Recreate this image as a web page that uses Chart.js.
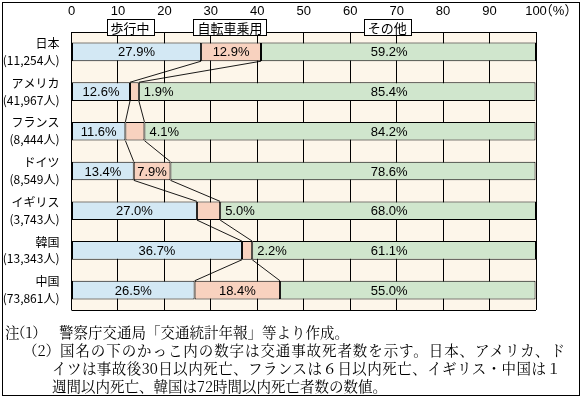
<!DOCTYPE html>
<html>
<head>
<meta charset="utf-8">
<script src="https://cdn.jsdelivr.net/npm/chart.js@4.4.0/dist/chart.umd.min.js"></script>
<style>
  body { margin: 0; background: #fff; }
  #wrap { position: relative; width: 584px; height: 402px; overflow: hidden; }
  #myChart { position: absolute; left: 0; top: 0; }
  #frame { position: absolute; left: 2px; top: 2px; width: 578px; height: 394px; border: 1px solid #000; box-sizing: border-box; pointer-events: none; }
  .note { position: absolute; font-family: 'Noto Serif CJK JP', 'Noto Sans CJK JP', serif; font-size: 14.5px; line-height: 18px; color: #000; white-space: nowrap; }
  .just { text-align: justify; text-align-last: justify; white-space: normal; }
</style>
</head>
<body>
<div id="wrap">
  <canvas id="myChart" width="584" height="402"></canvas>
  <div id="frame"></div>
  <div class="note" style="left:5px;top:323px;">注</div>
  <div class="note" style="left:11px;top:323px;">（1）</div>
  <div class="note" style="left:59px;top:323px;">警察庁交通局「交通統計年報」等より作成。</div>
  <div class="note" style="left:23px;top:341px;">（2）</div>
  <div class="note just" style="left:60px;top:341px;width:505px;">国名の下のかっこ内の数字は交通事故死者数を示す。日本、アメリカ、ド</div>
  <div class="note just" style="left:52px;top:359px;width:509px;">イツは事故後30日以内死亡、フランスは６日以内死亡、イギリス・中国は１</div>
  <div class="note" style="left:52px;top:377px;">週間以内死亡、韓国は72時間以内死亡者数の数値。</div>
</div>
<script>
var countries = ['日本', 'アメリカ', 'フランス', 'ドイツ', 'イギリス', '韓国', '中国'];
var deaths = ['11,254', '41,967', '8,444', '8,549', '3,743', '13,343', '73,861'];
var seriesNames = ['歩行中', '自転車乗用', 'その他'];
var pedestrian = [27.9, 12.6, 11.6, 13.4, 27.0, 36.7, 26.5];
var bicycle = [12.9, 1.9, 4.1, 7.9, 5.0, 2.2, 18.4];
var other = [59.2, 85.4, 84.2, 78.6, 68.0, 61.1, 55.0];
var xTicks = [0, 10, 20, 30, 40, 50, 60, 70, 80, 90, 100];

var jp = "'Noto Sans CJK JP', sans-serif";
var num = "'Liberation Sans', 'Noto Sans CJK JP', sans-serif";

// cream plot background + bottom edge
var plotBg = {
  id: 'plotBg',
  beforeDraw: function(chart) {
    var a = chart.chartArea, ctx = chart.ctx;
    ctx.save();
    ctx.fillStyle = '#fdf6ea';
    ctx.fillRect(a.left, a.top, a.right - a.left, a.bottom - a.top);
    ctx.restore();
  },
  afterDraw: function(chart) {
    var a = chart.chartArea, ctx = chart.ctx;
    ctx.save();
    ctx.strokeStyle = '#000';
    ctx.lineWidth = 1;
    ctx.beginPath();
    ctx.moveTo(a.left, Math.round(a.bottom) + 0.5);
    ctx.lineTo(a.right, Math.round(a.bottom) + 0.5);
    ctx.stroke();
    ctx.restore();
  }
};

// lines joining the bicycle segment between neighbouring bars
var connectors = {
  id: 'connectors',
  afterDatasetsDraw: function(chart) {
    var ctx = chart.ctx;
    var m0 = chart.getDatasetMeta(0).data, m1 = chart.getDatasetMeta(1).data;
    ctx.save();
    ctx.strokeStyle = '#000';
    ctx.lineWidth = 0.9;
    for (var i = 0; i < m0.length - 1; i++) {
      var yb = m0[i].y + m0[i].height / 2;
      var yt = m0[i + 1].y - m0[i + 1].height / 2;
      ctx.beginPath();
      ctx.moveTo(m0[i].x, yb); ctx.lineTo(m0[i + 1].x, yt);
      ctx.moveTo(m1[i].x, yb); ctx.lineTo(m1[i + 1].x, yt);
      ctx.stroke();
    }
    ctx.restore();
  }
};

// percentage labels inside the bars
var barLabels = {
  id: 'barLabels',
  afterDatasetsDraw: function(chart) {
    var ctx = chart.ctx, xs = chart.scales.x;
    ctx.save();
    ctx.font = '13px ' + num;
    ctx.fillStyle = '#000';
    ctx.textBaseline = 'middle';
    chart.data.datasets.forEach(function(ds, di) {
      chart.getDatasetMeta(di).data.forEach(function(bar, i) {
        var txt = ds.data[i].toFixed(1) + '%';
        var l = Math.min(bar.x, bar.base), r = Math.max(bar.x, bar.base);
        var y = bar.y + 1;
        if (di === 2) {
          ctx.textAlign = 'center';
          ctx.fillText(txt, xs.getPixelForValue(68.4), y);
        } else if (di === 1 && r - l < 32) {
          ctx.textAlign = 'left';
          ctx.fillText(txt, r + 5, y);
        } else {
          ctx.textAlign = 'center';
          ctx.fillText(txt, (l + r) / 2, y);
        }
      });
    });
    ctx.restore();
  }
};

// boxed series names over the top edge, and the (%) unit
var seriesTags = {
  id: 'seriesTags',
  afterDraw: function(chart) {
    var ctx = chart.ctx, xs = chart.scales.x, top = chart.chartArea.top;
    var at = [12.6, 34.1, 68.0];
    ctx.save();
    ctx.font = '13px ' + jp;
    ctx.textBaseline = 'middle';
    ctx.textAlign = 'center';
    seriesNames.forEach(function(name, i) {
      var cx = xs.getPixelForValue(at[i]);
      var w = Math.round(ctx.measureText(name).width + 8);
      var x0 = Math.round(cx - w / 2) + 0.5, y0 = top - 12.5;
      ctx.fillStyle = '#fff';
      ctx.fillRect(x0, y0, w, 16);
      ctx.strokeStyle = '#000';
      ctx.lineWidth = 1;
      ctx.strokeRect(x0, y0, w, 16);
      ctx.fillStyle = '#000';
      ctx.fillText(name, cx, y0 + 8.5);
    });
    ctx.font = '13px ' + num;
    ctx.textAlign = 'left';
    var x100 = xs.getPixelForValue(100) + ctx.measureText('100').width / 2 - 7;
    ctx.fillText('（%）', x100, 11);
    ctx.restore();
  }
};

function genGraph() {
  var ctx = document.getElementById('myChart').getContext('2d');
  var bars = {
    borderColor: '#000',
    borderWidth: 1,
    borderSkipped: false,
    categoryPercentage: 1,
    barPercentage: 0.47
  };
  var myChart = new Chart(ctx, {
    type: 'bar',
    data: {
      labels: countries.map(function(c, i) { return [c, '(' + deaths[i] + '人)']; }),
      datasets: [
        Object.assign({ label: seriesNames[0], data: pedestrian, backgroundColor: '#d3e8f4' }, bars),
        Object.assign({ label: seriesNames[1], data: bicycle, backgroundColor: '#f8d2bf' }, bars),
        Object.assign({ label: seriesNames[2], data: other, backgroundColor: '#d0e6cd' }, bars)
      ]
    },
    options: {
      indexAxis: 'y',
      responsive: false,
      animation: false,
      layout: { padding: { left: 0, right: 48, top: 0, bottom: 92 } },
      plugins: { legend: { display: false }, tooltip: { enabled: false } },
      scales: {
        x: {
          position: 'top',
          stacked: true,
          min: 0,
          max: 100,
          afterBuildTicks: function(s) { s.ticks = xTicks.map(function(v) { return { value: v }; }); },
          afterFit: function(s) { s.height = 32; },
          ticks: { color: '#000', font: { size: 13, family: num }, padding: 13, maxRotation: 0, autoSkip: false },
          grid: { color: '#000', lineWidth: 1, drawTicks: false },
          border: { display: true, color: '#000' }
        },
        y: {
          stacked: true,
          afterFit: function(s) { s.width = 71.5; },
          ticks: { color: '#000', font: { size: 12, family: jp, lineHeight: 1.4 }, padding: 4 },
          grid: { display: false },
          border: { display: false }
        }
      }
    },
    plugins: [plotBg, connectors, barLabels, seriesTags]
  });
}

genGraph();
</script>
</body>
</html>
